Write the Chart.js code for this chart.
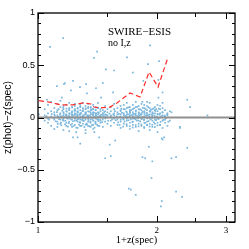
<!DOCTYPE html>
<html><head><meta charset="utf-8">
<script src="https://cdn.jsdelivr.net/npm/chart.js@4"></script>
<style>html,body{margin:0;padding:0;background:#fff}canvas{display:block}</style>
</head><body>
<canvas id="c" width="249" height="249"></canvas>
<script>
// dense cluster: 1+z(spec) columns and the z(phot)-z(spec) values read in each column
const colX = [1.04,1.06,1.08,1.10,1.12,1.14,1.16,1.18,1.20,1.22,1.24,1.26,1.28,1.30,1.32,1.34,1.36,1.38,1.40,1.42,1.44,1.46,1.48,1.50,1.53,1.56,1.59,1.62,1.65,1.68,1.71,1.74,1.77,1.80,1.83,1.86,1.89,1.92,1.95,1.98,2.01,2.04,2.07,2.10,2.13,2.16];
const colDz = [
 [0.02,-0.03,0.08],
 [-0.05,0.04,0.12,-0.01],
 [0.01,-0.08,0.06,0.15],
 [-0.02,0.03,0.09,-0.11,0.05],
 [0.00,-0.04,0.07,0.13,-0.09,0.02],
 [0.04,-0.02,0.10,-0.06,0.01,0.16],
 [-0.03,0.05,0.02,-0.12,0.08,0.11,-0.01],
 [0.03,-0.05,0.06,0.00,-0.08,0.12,0.02],
 [-0.01,0.04,0.09,-0.04,0.07,-0.13,0.01,0.14],
 [0.02,-0.06,0.05,0.10,-0.02,0.03,-0.09,0.06],
 [0.00,0.08,-0.03,0.04,0.11,-0.07,0.02,0.13,-0.01],
 [0.05,-0.04,0.01,0.09,-0.10,0.03,0.06,-0.02],
 [-0.02,0.07,0.03,-0.05,0.12,0.00,0.04,-0.08,0.10],
 [0.01,-0.03,0.06,0.09,-0.06,0.02,0.14,-0.01],
 [0.04,-0.07,0.00,0.08,-0.02,0.05,0.11,-0.12,0.03],
 [-0.01,0.06,0.02,-0.04,0.09,0.13,-0.08,0.01],
 [0.03,-0.05,0.07,0.00,0.10,-0.02,0.05,-0.09],
 [0.02,0.08,-0.03,0.05,-0.07,0.12,0.00,0.04,-0.11],
 [-0.01,0.04,0.07,-0.04,0.01,0.10,-0.06,0.03],
 [0.05,-0.02,0.09,0.00,-0.08,0.03,0.14],
 [0.01,-0.05,0.06,0.02,-0.03,0.08],
 [-0.02,0.04,0.00,0.07,-0.09,0.03],
 [0.03,-0.04,0.06,0.01,0.11],
 [0.00,0.05,-0.06,0.02,0.08],
 [0.02,-0.03,0.06,-0.08,0.10,0.01],
 [-0.01,0.04,0.08,-0.05,0.02,0.13],
 [0.03,-0.07,0.05,0.00,0.09,-0.02],
 [0.01,0.06,-0.04,0.11,0.03,-0.10,0.07],
 [-0.02,0.04,0.08,0.00,-0.06,0.12,0.02],
 [0.05,-0.03,0.01,0.09,-0.08,0.03,0.14,-0.01],
 [0.02,0.07,-0.05,0.04,0.00,0.10,-0.11,0.06],
 [-0.01,0.03,0.08,-0.04,0.12,0.01,-0.07,0.05],
 [0.04,-0.02,0.06,0.10,-0.09,0.00,0.15,0.02],
 [0.01,-0.06,0.05,0.08,-0.03,0.11,0.03,-0.13],
 [0.03,0.07,-0.01,0.04,-0.08,0.13,0.00],
 [-0.02,0.05,0.09,0.01,-0.05,0.12,-0.10,0.06],
 [0.02,-0.04,0.07,0.11,0.00,-0.07,0.04],
 [0.06,-0.01,0.03,-0.06,0.09,0.14,-0.12],
 [0.01,0.05,-0.03,0.08,-0.09,0.02],
 [-0.02,0.04,0.10,0.00,-0.06,0.07],
 [0.03,-0.05,0.06,0.12,-0.01,-0.14],
 [0.00,0.08,-0.07,0.04,0.11],
 [-0.03,0.05,0.02,-0.10,0.09],
 [0.01,-0.05,0.07,-0.02],
 [0.04,-0.08,0.02],
 [-0.03,0.06]
];
// extra core points close to zero
const coreX = [1.051,1.067,1.083,1.095,1.103,1.109,1.117,1.125,1.131,1.137,1.143,1.149,1.153,1.157,1.163,1.167,1.173,1.177,1.183,1.187,1.193,1.197,1.203,1.207,1.213,1.217,1.223,1.227,1.233,1.237,1.243,1.247,1.253,1.257,1.263,1.267,1.273,1.277,1.283,1.287,1.293,1.297,1.303,1.307,1.313,1.317,1.323,1.327,1.333,1.337,1.343,1.347,1.353,1.357,1.363,1.367,1.373,1.377,1.383,1.387,1.393,1.397,1.403,1.407,1.413,1.417,1.423,1.427,1.433,1.438,1.447,1.455,1.464,1.472,1.481,1.492,1.507,1.518,1.527,1.541,1.552,1.567,1.574,1.583,1.597,1.604,1.613,1.621,1.633,1.641,1.652,1.658,1.667,1.674,1.683,1.691,1.697,1.705,1.713,1.721,1.727,1.735,1.743,1.751,1.757,1.765,1.772,1.781,1.787,1.795,1.803,1.811,1.817,1.825,1.833,1.841,1.847,1.855,1.862,1.871,1.877,1.885,1.893,1.901,1.908,1.917,1.925,1.934,1.942,1.951,1.958,1.967,1.976,1.984,1.993,2.003,2.012,2.023,2.034,2.046,2.055,2.068,2.081,2.095,2.112,2.127,
 1.122,1.128,1.146,1.159,1.171,1.181,1.191,1.201,1.211,1.221,1.231,1.241,1.251,1.261,1.271,1.281,1.291,1.301,1.311,1.321,1.331,1.341,1.351,1.361,1.371,1.381,1.391,1.401,1.411,1.421,1.431,1.611,1.627,1.644,1.661,1.678,1.694,1.709,1.724,1.739,1.754,1.769,1.784,1.799,1.814,1.829,1.844,1.859,1.874,1.889,1.904,1.919,1.934,1.949,1.964,1.979,1.994,2.009,2.024,2.039];
const coreY = [0.012,-0.021,0.034,-0.006,0.018,-0.037,0.052,0.007,-0.015,0.029,-0.048,0.011,0.064,-0.023,0.038,0.004,-0.031,0.021,0.057,-0.011,0.015,-0.054,0.031,0.002,-0.019,0.046,0.013,-0.036,0.024,0.069,-0.008,0.035,-0.027,0.017,0.051,-0.013,0.026,-0.045,0.009,0.042,-0.022,0.061,0.014,-0.033,0.028,-0.005,0.047,-0.058,0.019,0.003,-0.024,0.055,0.016,-0.041,0.033,0.072,-0.012,0.024,-0.029,0.048,0.006,-0.052,0.021,0.039,-0.017,0.008,-0.035,0.044,0.012,-0.021,0.027,-0.044,0.015,0.052,-0.009,0.023,-0.031,0.037,0.004,-0.018,0.029,0.061,-0.026,0.011,-0.047,0.034,0.007,-0.022,0.045,-0.011,0.024,-0.039,0.016,0.058,-0.004,0.031,-0.026,0.013,0.049,-0.017,0.022,-0.043,0.008,0.036,-0.012,0.026,0.067,-0.029,0.014,-0.006,0.041,0.019,-0.038,0.027,-0.015,0.053,0.005,-0.024,0.032,-0.051,0.018,0.044,-0.009,0.023,-0.034,0.011,0.056,-0.019,0.029,-0.003,0.038,-0.046,0.017,0.062,-0.025,0.009,0.035,-0.014,0.027,-0.041,0.012,0.048,-0.022,0.019,-0.007,0.031,
 -0.062,0.081,-0.074,0.093,-0.066,0.085,-0.087,0.077,-0.071,0.096,-0.082,0.063,-0.097,0.086,-0.069,0.104,-0.079,0.072,-0.092,0.088,-0.066,0.101,-0.084,0.091,-0.073,0.083,-0.098,0.076,-0.068,0.094,-0.081,-0.071,0.084,-0.088,0.079,-0.064,0.097,-0.083,0.071,-0.096,0.089,-0.072,0.102,-0.085,0.078,-0.067,0.093,-0.091,0.082,-0.074,0.099,-0.086,0.073,-0.069,0.087,-0.093,0.079,-0.076,0.084,-0.071];
// scattered outliers
const outX = [1.005,1.073,1.158,1.412,1.387,1.487,1.56,1.171,1.227,1.164,1.117,1.278,1.212,1.403,1.324,1.15,1.331,1.445,1.054,
  2.028,2.39,2.43,2.69,1.682,1.923,1.46,1.55,1.74,1.85,1.90,2.02,2.07,1.84,1.89,2.02,2.18,2.29,2.14,2.07,2.07,
  1.227,1.26,1.28,1.25,1.32,1.39,1.43,1.52,1.57,1.48,1.53,2.29,2.39,1.91,1.84,1.87,1.95,2.18,2.24,1.94,1.70,1.72,1.77,2.24,2.32,2.06,2.05,2.06,2.09];
const outY = [0.03,0.675,0.76,0.63,0.57,0.46,0.45,0.33,0.35,0.32,0.30,0.29,0.26,0.28,0.32,0.19,0.23,0.19,0.17,
  0.54,0.17,0.10,0.02,0.576,0.69,0.33,0.24,0.43,0.35,0.51,0.36,0.24,0.15,0.15,0.19,0.05,-0.10,-0.04,0.14,-0.21,
  -0.19,-0.19,-0.25,-0.14,-0.15,-0.14,-0.19,-0.26,-0.22,-0.39,-0.37,-0.09,-0.29,-0.28,-0.38,-0.39,-0.42,-0.39,-0.38,-0.58,-0.68,-0.69,-0.74,-0.71,-0.76,-0.80,-0.85,-0.20,-0.19];
// red dashed curve
const curveX = [1.006,1.066,1.144,1.227,1.30,1.363,1.387,1.437,1.523,1.586,1.712,1.815,1.913,2.016,2.138];
const curveY = [0.161,0.148,0.12,0.12,0.139,0.129,0.10,0.091,0.10,0.139,0.234,0.196,0.435,0.292,0.579];
const xTickVals = [1,1.5,2,2.5,3];
const xMajor = [1,2,3];
const yLabelVals = [-1,-0.5,0,0.5,1];

const pts = [];
colX.forEach((x,i)=>colDz[i].forEach(d=>pts.push({x:x,y:d})));
coreX.forEach((x,i)=>pts.push({x:x,y:coreY[i]}));
outX.forEach((x,i)=>pts.push({x:x,y:outY[i]}));
const curve = curveX.map((x,i)=>({x:x,y:curveY[i]}));

const framePlugin = {
  id:'frame',
  afterDatasetsDraw(chart){
    const {ctx, chartArea:a, scales:{x,y}} = chart;
    ctx.save();
    const y0 = y.getPixelForValue(0);
    ctx.strokeStyle='#909090'; ctx.lineWidth=2;
    ctx.beginPath(); ctx.moveTo(a.left,y0); ctx.lineTo(a.right,y0); ctx.stroke();
    ctx.strokeStyle='#000'; ctx.lineWidth=1;
    ctx.beginPath();
    for(let i=-10;i<=10;i++){
      const p=Math.round(y.getPixelForValue(i/10))+0.5;
      const L=(i%5===0)?6:3;
      ctx.moveTo(a.left,p); ctx.lineTo(a.left+L,p);
      ctx.moveTo(a.right,p); ctx.lineTo(a.right-L,p);
    }
    xTickVals.forEach(v=>{
      const p=Math.round(x.getPixelForValue(v))+0.5;
      const L=xMajor.includes(v)?6:4;
      ctx.moveTo(p,a.bottom); ctx.lineTo(p,a.bottom-L);
      ctx.moveTo(p,a.top); ctx.lineTo(p,a.top+L);
    });
    ctx.stroke();
    ctx.lineWidth=1.3;
    ctx.strokeRect(a.left,a.top,a.right-a.left,a.bottom-a.top);
    ctx.fillStyle='#000';
    ctx.textBaseline='alphabetic';
    ctx.font='11px "Liberation Serif"';
    ctx.fillText('SWIRE\u2212ESIS',108,35);
    ctx.font='10px "Liberation Serif"';
    ctx.fillText('no I,z',108,46);
    ctx.restore();
  }
};

new Chart(document.getElementById('c'),{
  data:{datasets:[
    {type:'scatter',data:pts,pointStyle:'rect',pointRadius:1.2,pointBackgroundColor:'#7ab6dc',pointBorderWidth:0,order:2},
    {type:'line',data:curve,borderColor:'#ff2a2a',borderWidth:1.2,borderDash:[5,3],pointRadius:0,fill:false,tension:0,order:1}
  ]},
  options:{
    responsive:false,animation:false,
    layout:{padding:{left:0,right:14,top:13,bottom:0}},
    plugins:{legend:{display:false},tooltip:{enabled:false}},
    scales:{
      x:{type:'logarithmic',min:1,max:3.16,
        grid:{display:false,drawTicks:false},border:{display:false},
        afterBuildTicks(s){s.ticks=xTickVals.map(v=>({value:v}));},
        afterFit(s){s.height=27;s.paddingLeft=0;s.paddingRight=0;},
        ticks:{autoSkip:false,maxRotation:0,padding:3,color:'#000',font:{family:'"Liberation Serif"',size:9},
          callback:(v)=>xMajor.includes(v)?String(v):''},
        title:{display:true,text:'1+z(spec)',color:'#000',font:{family:'"Liberation Serif"',size:10.5},padding:{top:0,bottom:2}}
      },
      y:{type:'linear',min:-1,max:1,
        grid:{display:false,drawTicks:false},border:{display:false},
        afterBuildTicks(s){s.ticks=yLabelVals.map(v=>({value:v}));},
        afterFit(s){s.width=38;},
        ticks:{autoSkip:false,padding:3,color:'#000',font:{family:'"Liberation Sans"',size:9},
          callback:(v)=>v<0?'\u2212'+String(-v):String(v)},
        title:{display:true,text:'z(phot)\u2212z(spec)',color:'#000',font:{family:'"Liberation Sans"',size:10.5},padding:{top:2,bottom:0}}
      }
    }
  },
  plugins:[framePlugin]
});
</script>
</body></html>
